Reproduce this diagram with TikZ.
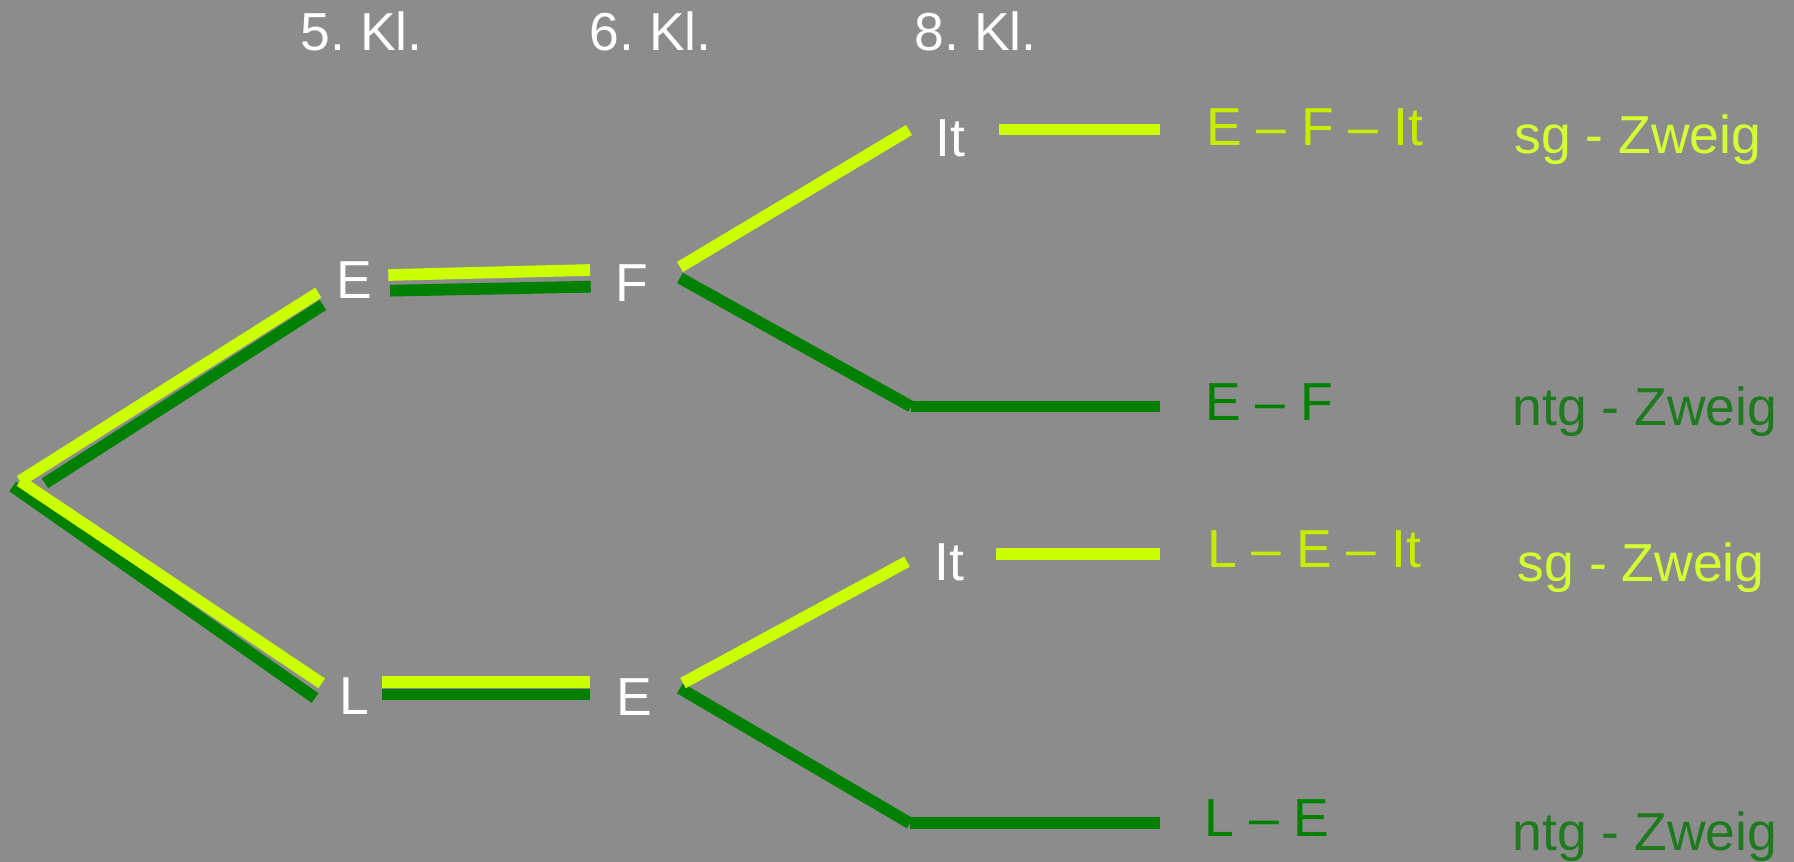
\documentclass[tikz,border=0pt]{standalone}
\usepackage{fontspec}
\setmainfont{Liberation Sans}
\definecolor{bg}{HTML}{8C8C8C}
\definecolor{lime}{HTML}{CCFF00}
\definecolor{dgreen}{HTML}{008000}
\definecolor{limetext}{HTML}{C8EC00}
\definecolor{sgtext}{HTML}{D4FF33}
\definecolor{ntgtext}{HTML}{1F7A1F}
\begin{document}
\frenchspacing
\begin{tikzpicture}[x=1pt,y=-1pt,
  lbl/.style={anchor=base west, inner sep=0pt, font=\fontsize{53.5}{60}\selectfont},
  limeline/.style={draw=lime, line width=11.7pt},
  greenline/.style={draw=dgreen, line width=11.7pt}]
\fill[bg] (0,0) rectangle (1794,862);
\useasboundingbox (0,0) rectangle (1794,862);

% headings
\node[lbl,white] (k5) at (300.4,50) {5.\ Kl.};
\node[lbl,white] (k6) at (589.4,50) {6.\ Kl.};
\node[lbl,white] (k8) at (914.4,50) {8.\ Kl.};

% tree labels
\node[lbl,white] (e1) at (335.8,298.3) {E};
\node[lbl,white] (f1) at (615.6,301.7) {F};
\node[lbl,white] (it1) at (935,156) {It};
\node[lbl,white] (l2) at (339,714.5) {L};
\node[lbl,white] (e2) at (615.8,715) {E};
\node[lbl,white] (it2) at (934,580) {It};

% results
\node[lbl,limetext] (p1) at (1205.8,145) {E – F – It};
\node[lbl,sgtext] (z1) at (1514.3,153) {sg - Zweig};
\node[lbl,dgreen] (p2) at (1204.8,420.7) {E – F};
\node[lbl,ntgtext] (z2) at (1512.5,425) {ntg - Zweig};
\node[lbl,limetext] (p3) at (1206.8,567.3) {L – E – It};
\node[lbl,sgtext] (z3) at (1517.6,581.7) {sg - Zweig};
\node[lbl,dgreen] (p4) at (1204.4,836) {L – E};
\node[lbl,ntgtext] (z4) at (1512.5,850.7) {ntg - Zweig};

% line end points
\coordinate (rootL) at (20,481);
\coordinate (rootGu) at (45,483.3);
\coordinate (rootGl) at (12.7,486.5);
\coordinate (eLa) at (318.3,292.7);
\coordinate (eGa) at (323,305);
\coordinate (lLa) at (321.7,683.3);
\coordinate (lGa) at (315,698);
\coordinate (efL1) at (388.3,275);
\coordinate (efL2) at (590,270);
\coordinate (efG1) at (390,290.7);
\coordinate (efG2) at (590.7,286.7);
\coordinate (fL) at (680,267);
\coordinate (fG) at (680,278);
\coordinate (itL1) at (909,130);
\coordinate (itH1) at (999,129.5);
\coordinate (itH2) at (1160,129.5);
\coordinate (ntG1) at (911,406.5);
\coordinate (ntG2) at (1160,406.5);
\coordinate (leL1) at (382,682);
\coordinate (leL2) at (590,682);
\coordinate (leG1) at (382,694.4);
\coordinate (leG2) at (590,694.4);
\coordinate (e2L) at (683,683);
\coordinate (e2G) at (680,688.3);
\coordinate (it2L) at (907,561.7);
\coordinate (it2H1) at (996.4,553.7);
\coordinate (it2H2) at (1160,553.7);
\coordinate (nt2G1) at (910,823.3);
\coordinate (nt2G2) at (1160,823.3);

% green paths (ntg)
\draw[greenline] (rootGu) -- (eGa);
\draw[greenline] (rootGl) -- (lGa);
\draw[greenline] (efG1) -- (efG2);
\draw[greenline] (fG) -- (ntG1);
\draw[greenline] (ntG1) -- (ntG2);
\draw[greenline] (leG1) -- (leG2);
\draw[greenline] (e2G) -- (nt2G1);
\draw[greenline] (nt2G1) -- (nt2G2);

% lime paths (sg)
\draw[limeline] (rootL) -- (eLa);
\draw[limeline] (rootL) -- (lLa);
\draw[limeline] (efL1) -- (efL2);
\draw[limeline] (fL) -- (itL1);
\draw[limeline] (itH1) -- (itH2);
\draw[limeline] (leL1) -- (leL2);
\draw[limeline] (e2L) -- (it2L);
\draw[limeline] (it2H1) -- (it2H2);
\end{tikzpicture}
\end{document}
